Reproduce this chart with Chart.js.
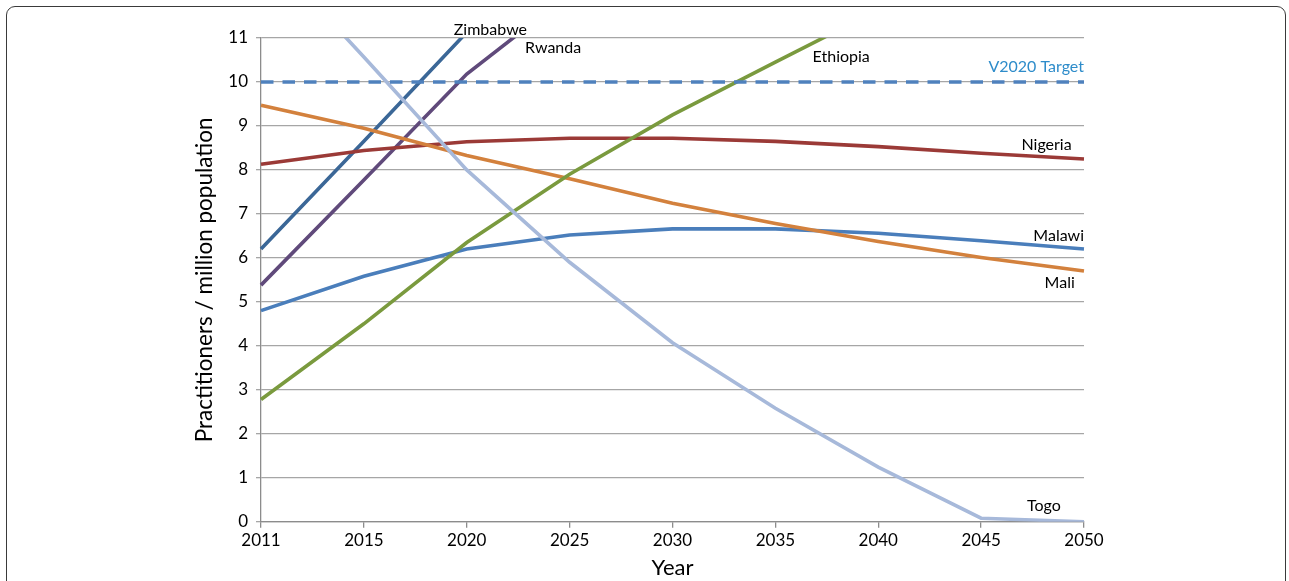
<!DOCTYPE html>
<html>
<head>
<meta charset="utf-8">
<script src="https://cdn.jsdelivr.net/npm/chart.js@4"></script>
<style>
  html, body { margin: 0; padding: 0; background: #fff; overflow: hidden; width: 1289px; height: 581px; }
  #frame { position: absolute; left: 6px; top: 6px; width: 1278px; height: 620px; border: 1.6px solid #3a3a3a; border-radius: 9px; box-sizing: content-box; pointer-events: none; }
  canvas { position: absolute; left: 0; top: 0; }
</style>
</head>
<body>
<canvas id="c" width="1289" height="581"></canvas>
<div id="frame"></div>
<script>
// ---- data ----
const years    = ['2011','2015','2020','2025','2030','2035','2040','2045','2050'];
const malawi   = [4.80, 5.58, 6.20, 6.52, 6.66, 6.66, 6.56, 6.39, 6.20];
const mali     = [9.47, 8.95, 8.33, 7.80, 7.24, 6.78, 6.37, 6.01, 5.70];
const nigeria  = [8.13, 8.44, 8.64, 8.72, 8.72, 8.65, 8.53, 8.38, 8.25];
const ethiopia = [2.78, 4.50, 6.35, 7.90, 9.25, 10.45, 11.64, null, null];
const zimbabwe = [6.20, 8.65, 11.13, null, null, null, null, null, null];
const rwanda   = [5.38, 7.77, 10.18, 12.00, null, null, null, null, null];
const togo     = [13.08, 10.57, 8.00, 5.90, 4.07, 2.58, 1.24, 0.08, 0.00];
const target   = [10, 10, 10, 10, 10, 10, 10, 10, 10];
const yTicks   = [0,1,2,3,4,5,6,7,8,9,10,11];

// series label annotations: [text, category index, value, align, colour]
const seriesLabels = [
  ['Zimbabwe',     2.23, 11.18, 'center', '#000'],
  ['Rwanda',       2.84, 10.77, 'center', '#000'],
  ['Ethiopia',     5.64, 10.57, 'center', '#000'],
  ['V2020 Target', 8.00, 10.35, 'right',  '#2e8cca'],
  ['Nigeria',      7.88, 8.57,  'right',  '#000'],
  ['Malawi',       8.00, 6.49,  'right',  '#000'],
  ['Mali',         7.91, 5.43,  'right',  '#000'],
  ['Togo',         7.61, 0.36,  'center', '#000']
];

const FONT = 'Lato, "Open Sans", sans-serif';

const labelPlugin = {
  id: 'seriesLabels',
  afterDatasetsDraw(chart) {
    const {ctx, scales: {x, y}} = chart;
    ctx.save();
    ctx.font = '16px ' + FONT;
    ctx.textBaseline = 'middle';
    seriesLabels.forEach(([t, xi, yv, al, col]) => {
      ctx.fillStyle = col;
      ctx.textAlign = al;
      ctx.fillText(t, x.getPixelForValue(xi), y.getPixelForValue(yv));
    });
    ctx.restore();
  }
};

function ds(label, data, color, extra) {
  return Object.assign({
    label, data, borderColor: color, backgroundColor: color,
    borderWidth: 3.6, pointRadius: 0, pointHoverRadius: 0, tension: 0,
    fill: false, spanGaps: false
  }, extra || {});
}

new Chart(document.getElementById('c'), {
  type: 'line',
  data: {
    labels: years,
    datasets: [
      ds('V2020 Target', target, '#4f81bd', {borderDash: [12.5, 9], borderWidth: 3.5}),
      ds('Togo', togo, '#a7b9da'),
      ds('Ethiopia', ethiopia, '#7a9a3e'),
      ds('Mali', mali, '#d3813d'),
      ds('Nigeria', nigeria, '#9b3a37'),
      ds('Malawi', malawi, '#4a7ebb'),
      ds('Zimbabwe', zimbabwe, '#3b6797'),
      ds('Rwanda', rwanda, '#604a7b')
    ]
  },
  options: {
    responsive: false,
    animation: false,
    devicePixelRatio: 1,
    layout: { padding: { left: 190, top: 38, right: 205, bottom: 0 } },
    plugins: { legend: { display: false }, tooltip: { enabled: false } },
    scales: {
      x: {
        type: 'category',
        offset: false,
        grid: { drawOnChartArea: false, drawTicks: true, tickLength: 6, color: '#8c8c8c', lineWidth: 1.3 },
        border: { color: '#8c8c8c', width: 1.3 },
        ticks: { color: '#000', font: { family: FONT, size: 17 }, padding: 3, maxRotation: 0, autoSkip: false },
        title: { display: true, text: 'Year', color: '#000', font: { family: FONT, size: 22 }, padding: { top: 0, bottom: 0 } },
        afterFit(s) { s.height = 59.3; }
      },
      y: {
        min: 0, max: 11,
        afterBuildTicks(s) { s.ticks = yTicks.map(v => ({ value: v })); },
        grid: { color: '#a6a6a6', lineWidth: 1.3, drawTicks: true, tickLength: 5 },
        border: { color: '#8c8c8c', width: 1.3 },
        ticks: { color: '#000', font: { family: FONT, size: 17 }, padding: 8 },
        title: { display: true, text: 'Practitioners / million population', color: '#000', font: { family: FONT, size: 22.5 }, padding: { top: 1, bottom: 0 } },
        afterFit(s) { s.width = 71; }
      }
    }
  },
  plugins: [labelPlugin]
});
</script>
</body>
</html>
